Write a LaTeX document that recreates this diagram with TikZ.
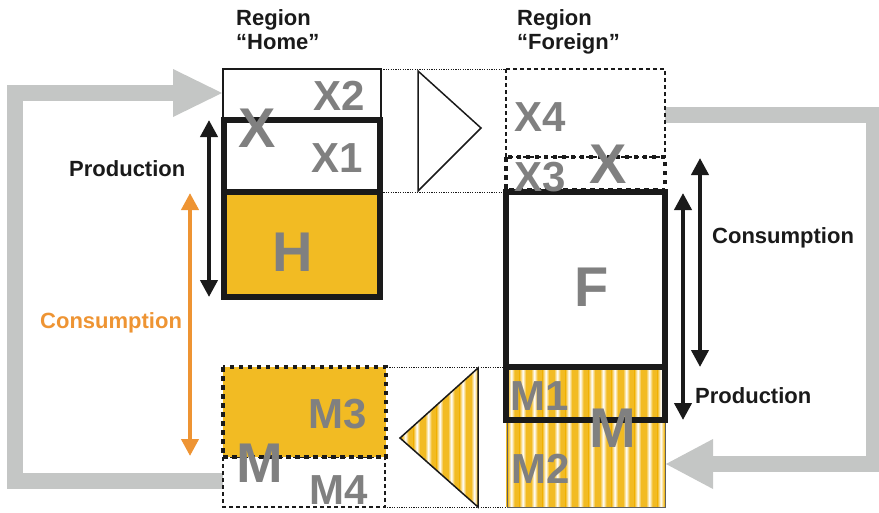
\documentclass[tikz,border=0pt]{standalone}
\usepackage{fontspec}
\setmainfont{Liberation Sans}
\usetikzlibrary{arrows.meta}
\definecolor{yel}{HTML}{F2BB23}
\definecolor{garrow}{HTML}{C4C6C5}
\definecolor{gtext}{HTML}{808080}
\definecolor{orng}{HTML}{EE9433}
\definecolor{blk}{HTML}{1A1A1A}
\newcommand\stripefill[4]{% x1,y1,x2,y2
  \fill[yel] (#1,#2) rectangle (#3,#4);
  \foreach \k in {0,...,15} {
    \shade[left color=yel,right color=yel,middle color=white]
      ({#1+2+\k*11.5},#2) rectangle ({#1+8.5+\k*11.5},#4);
  }
}
\begin{document}
\begin{tikzpicture}[x=1pt,y=-1pt,
  lbl/.style={font=\fontsize{22}{24}\selectfont\bfseries, text=blk, inner sep=0pt, anchor=base west},
  gl/.style={font=\fontsize{42}{42}\selectfont\bfseries, text=gtext, inner sep=0pt},
  gbig/.style={font=\fontsize{56}{56}\selectfont\bfseries, text=gtext, inner sep=0pt},
  thickbox/.style={draw=blk, line width=6pt},
  thinbox/.style={draw=blk, line width=1.2pt},
  dashbox/.style={draw=blk, line width=1.3pt, dash pattern=on 4pt off 3pt},
  dotbox/.style={draw=blk, line width=4.5pt, dash pattern=on 4.5pt off 4.5pt},
  guide/.style={draw=blk, line width=0.9pt, dash pattern=on 1.2pt off 1.2pt},
  darr/.style={line width=4pt, {Triangle[width=17pt,length=17pt]}-{Triangle[width=17pt,length=17pt]}},
  flow/.style={draw=garrow, line width=16pt, line join=miter},
  tri/.style={draw=blk, line width=1.5pt, line join=miter},
]
\useasboundingbox (0,0) rectangle (879,512);

% ---------- gray flow arrows ----------
\coordinate (lf0) at (223,481);
\coordinate (lf1) at (15,481);
\coordinate (lf2) at (15,93);
\coordinate (lf3) at (175,93);
\coordinate (lftip) at (222,93);
\draw[flow] (lf0) -- (lf1) -- (lf2) -- (lf3);
\fill[garrow] (173,69) -- (lftip) -- (173,117) -- cycle;

\coordinate (rf0) at (665,115);
\coordinate (rf1) at (874,115);
\coordinate (rf2) at (874,464);
\coordinate (rf3) at (711,464);
\coordinate (rftip) at (666,464);
\draw[flow] (rf0) -- (rf1) -- (rf2) -- (rf3);
\fill[garrow] (713,439) -- (rftip) -- (713,489) -- cycle;

% ---------- guide lines ----------
\draw[guide] (381,69) -- (507,69);
\draw[guide] (381,192) -- (507,192);
\draw[guide] (387,367) -- (506,367);
\draw[guide] (387,507) -- (507,507);

% ---------- Home top ----------
\draw[thinbox] (223,69) rectangle (381,118);
\draw[thickbox] (224,120) rectangle (380,192);
\draw[thickbox, fill=yel] (224,192) rectangle (380,297);
\draw[tri] (418,71) -- (481,128) -- (418,191) -- cycle;

% ---------- Foreign top ----------
\draw[dashbox] (506,69) rectangle (665,157);
\draw[dotbox] (506,157) rectangle (665,190);
\draw[thickbox] (506,192) rectangle (665,367);

% ---------- Foreign bottom (striped) ----------
\begin{scope}
  \clip (506,367) rectangle (665,507);
  \stripefill{506}{367}{665}{507}
\end{scope}
\draw[draw=blk!70, line width=1pt] (507,420) rectangle (665,507);
\draw[thickbox] (506,367) rectangle (665,420);

% ---------- Home bottom ----------
\draw[dashbox] (223,457) rectangle (385,507);
\fill[yel] (223,367) rectangle (386,457);
\draw[dotbox] (223,367) rectangle (386,457);
\begin{scope}
  \clip (400,438) -- (478,368) -- (478,507) -- cycle;
  \stripefill{400}{367}{480}{508}
\end{scope}
\draw[tri] (400,438) -- (478,368) -- (478,507) -- cycle;

% ---------- gray labels ----------
\node[gl] (x2) at (339,96) {X2};
\node[gl] (x1) at (337,158) {X1};
\node[gbig] (xh) at (257,128) {X};
\node[gbig] (h) at (293,252) {H};
\node[gl] (x4) at (540,117) {X4};
\node[gl] (x3) at (540,177) {X3};
\node[gbig] (xf) at (608,164) {X};
\node[gbig] (f) at (592,287) {F};
\node[gl] (m1) at (540,396) {M1};
\node[gbig] (mf) at (613,428) {M};
\node[gl] (m2) at (541,469) {M2};
\node[gl] (m3) at (338,414) {M3};
\node[gbig] (mh) at (260,463) {M};
\node[gl] (m4) at (339,490) {M4};

% ---------- black labels ----------
\node[lbl] (rh1) at (236,25) {Region};
\node[lbl] (rh2) at (236,49) {“Home”};
\node[lbl] (rf1l) at (517,25) {Region};
\node[lbl] (rf2l) at (517,49) {“Foreign”};
\node[lbl] (prodh) at (69,176) {Production};
\node[lbl, text=orng] (consh) at (40,328) {Consumption};
\node[lbl] (consf) at (712,243) {Consumption};
\node[lbl] (prodf) at (695,403) {Production};

% ---------- double arrows ----------
\coordinate (ph0) at (209,120);
\coordinate (ph1) at (209,297);
\draw[darr, blk] (ph0) -- (ph1);
\coordinate (ch0) at (190,193);
\coordinate (ch1) at (190,456);
\draw[darr, orng] (ch0) -- (ch1);
\coordinate (cf0) at (700,158);
\coordinate (cf1) at (700,367);
\draw[darr, blk] (cf0) -- (cf1);
\coordinate (pf0) at (683,193);
\coordinate (pf1) at (683,420);
\draw[darr, blk] (pf0) -- (pf1);
\end{tikzpicture}
\end{document}
